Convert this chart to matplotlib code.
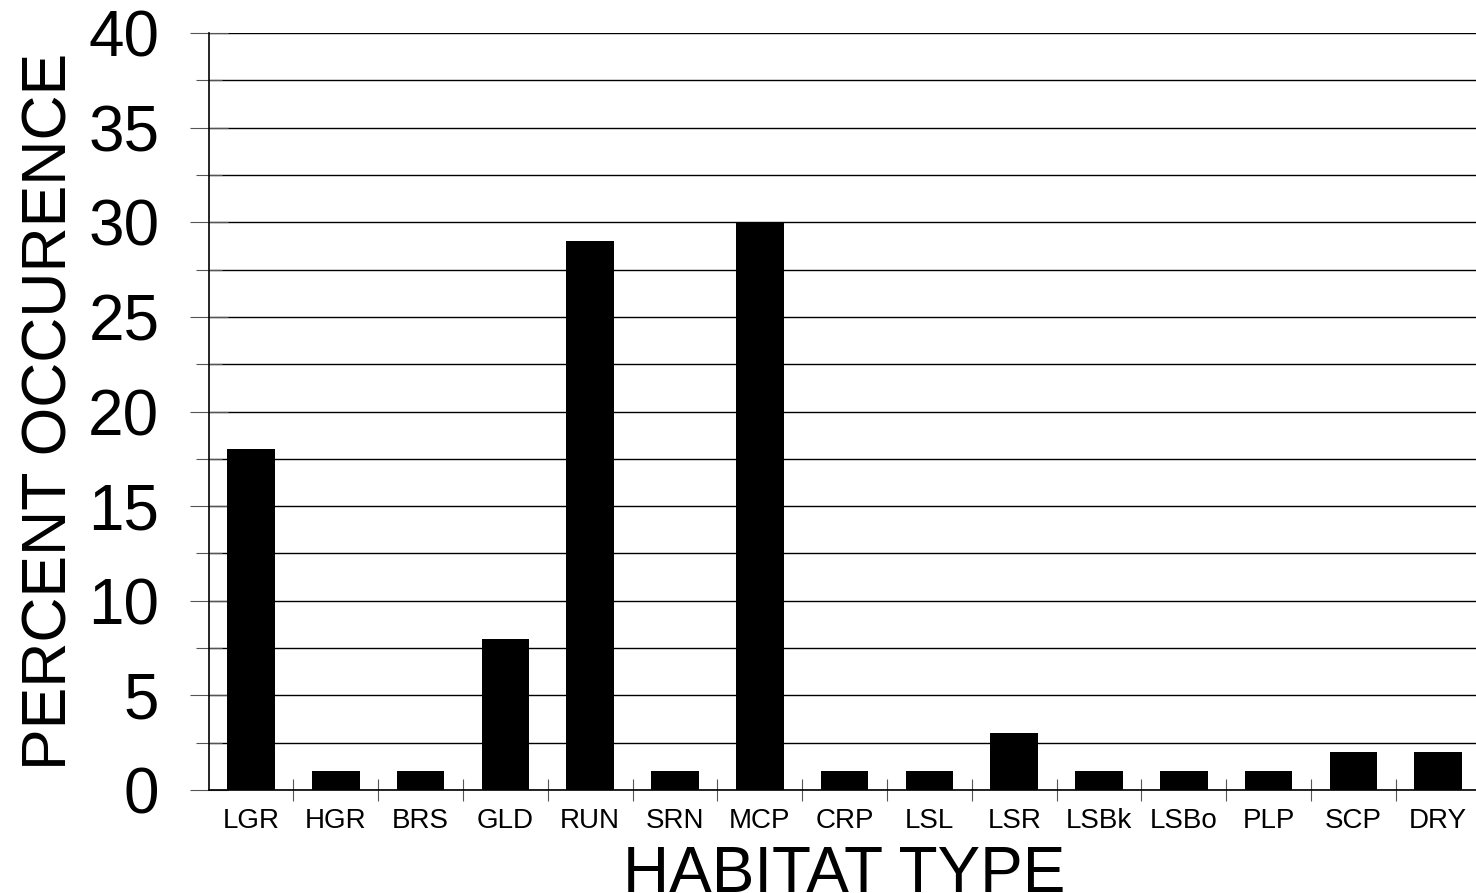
import matplotlib
matplotlib.use('Agg')
from matplotlib import pyplot as plt
import numpy as np

plt.rcParams['font.family'] = ['Liberation Sans', 'DejaVu Sans']

habitats = ['LGR', 'HGR', 'BRS', 'GLD', 'RUN', 'SRN', 'MCP', 'CRP',
            'LSL', 'LSR', 'LSBk', 'LSBo', 'PLP', 'SCP', 'DRY']
percent = [18, 1, 1, 8, 29, 1, 30, 1, 1, 3, 1, 1, 1, 2, 2]

fig = plt.figure(figsize=(14.76, 8.93), dpi=100)
# axes runs a bit past the right edge, as in the original crop
ax = fig.add_axes([208.6 / 1476, 103 / 893, 1272 / 1476, 757 / 893])

x = np.arange(len(habitats))
ax.bar(x, percent, width=0.56, color='black', zorder=3)

ax.set_xlim(-0.5, len(habitats) - 0.5)
ax.set_ylim(0, 40)

ax.set_yticks(np.arange(0, 41, 5))
ax.set_yticks(np.arange(2.5, 40, 5), minor=True)
ax.yaxis.grid(True, which='both', color='black', linewidth=1.0, zorder=0)
ax.tick_params(axis='y', which='major', labelsize=46, direction='inout',
               length=27, width=0.8, color='#555555', pad=22)
ax.tick_params(axis='y', which='minor', direction='inout', length=19,
               width=0.8, color='#555555')

ax.set_xticks(x)
ax.set_xticklabels(habitats)
ax.set_xticks(np.arange(0.5, len(habitats) - 0.5, 1), minor=True)
ax.tick_params(axis='x', which='major', length=0, labelsize=20, pad=13)
ax.tick_params(axis='x', which='minor', direction='inout', length=16,
               width=0.8, color='#555555')

for s in ['top', 'right']:
    ax.spines[s].set_visible(False)
ax.spines['left'].set_linewidth(1.2)
ax.spines['bottom'].set_linewidth(1.2)

ax.set_ylabel('PERCENT OCCURENCE', fontsize=45, labelpad=6)
ax.set_xlabel('HABITAT TYPE', fontsize=46, labelpad=8)

plt.savefig('out.png', dpi=100)
